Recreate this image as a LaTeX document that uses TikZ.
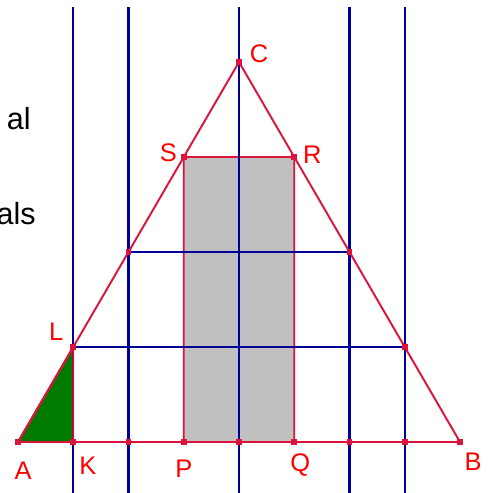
\documentclass[tikz,border=0pt]{standalone}
\usepackage{fontspec}
\setmainfont{Liberation Sans}
\usetikzlibrary{positioning,calc}
\definecolor{edgered}{RGB}{220,20,60}
\definecolor{lineblue}{RGB}{0,0,150}
\definecolor{areagreen}{RGB}{0,122,0}
\definecolor{areagray}{RGB}{192,192,192}
\tikzset{
  edge/.style={draw=edgered, line width=1.1pt, line join=round},
  vline/.style={draw=lineblue, line width=1.2pt},
  pt/.style={rectangle, fill=edgered, minimum size=3.2pt, inner sep=0pt},
  lbl/.style={text=red, font=\fontsize{14.5}{17}\selectfont, inner sep=0pt},
  side/.style={font=\fontsize{17.4}{20}\selectfont, inner sep=0pt, anchor=base east},
}

\begin{document}
\begin{tikzpicture}[x=0.02cm, y=-0.02cm]
    \useasboundingbox (0,0) rectangle (489,493);
    \coordinate (A) at (18,442);
    \coordinate (B) at (460,442);
    \coordinate (C) at (239,62);
    \coordinate (K) at ($(A)!1/8!(B)$);
    \coordinate (P) at ($(A)!3/8!(B)$);
    \coordinate (Q) at ($(A)!5/8!(B)$);
    \coordinate (L) at ($(A)!1/4!(C)$);
    \coordinate (S) at ($(A)!3/4!(C)$);
    \coordinate (R) at ($(B)!3/4!(C)$);
    \coordinate (Lr) at ($(B)!1/4!(C)$);
    \coordinate (Ml) at ($(A)!1/2!(C)$);
    \coordinate (Mr) at ($(B)!1/2!(C)$);

    \draw[edge, fill=areagray] (P) -- (Q) -- (R) -- (S) -- cycle;
    \fill[areagreen] (A) -- (K) -- (L) -- cycle;

    \foreach \f in {1,2,4,6,7} {
      \coordinate (v\f) at ($(A)!\f/8!(B)$);
      \draw[vline] (v\f |- 0,7) -- (v\f |- 0,493);
    }
    \draw[vline] (L) -- (Lr);
    \draw[vline] (Ml) -- (Mr);

    \draw[edge] (A) -- (B) -- (C) -- cycle;
    \draw[edge] (A) -- (K) -- (L) -- cycle;

    \foreach \p in {A,B,C,K,P,Q,L,S,R,Lr,Ml,Mr,v2,v4,v6,v7}
      \node[pt] (pt\p) at (\p) {};

    \node[lbl] (labA) at ($(A)+(5,28.5)$) {A};
    \node[lbl] (labB) at ($(B)+(13,20)$) {B};
    \node[lbl] (labC) at ($(C)+(20,-8)$) {C};
    \node[lbl] (labK) at ($(K)+(14.5,24)$) {K};
    \node[lbl] (labP) at ($(P)+(0,27)$) {P};
    \node[lbl] (labQ) at ($(Q)+(6,23.5)$) {Q};
    \node[lbl] (labR) at ($(R)+(18,-2.5)$) {R};
    \node[lbl] (labS) at ($(S)+(-15.5,-4)$) {S};
    \node[lbl] (labL) at ($(L)+(-17,-15.5)$) {L};

    \node[side] (txtal) at (31,130) {al};
    \node[side] (txtals) at (36,224) {als};
  \end{tikzpicture}
\end{document}
